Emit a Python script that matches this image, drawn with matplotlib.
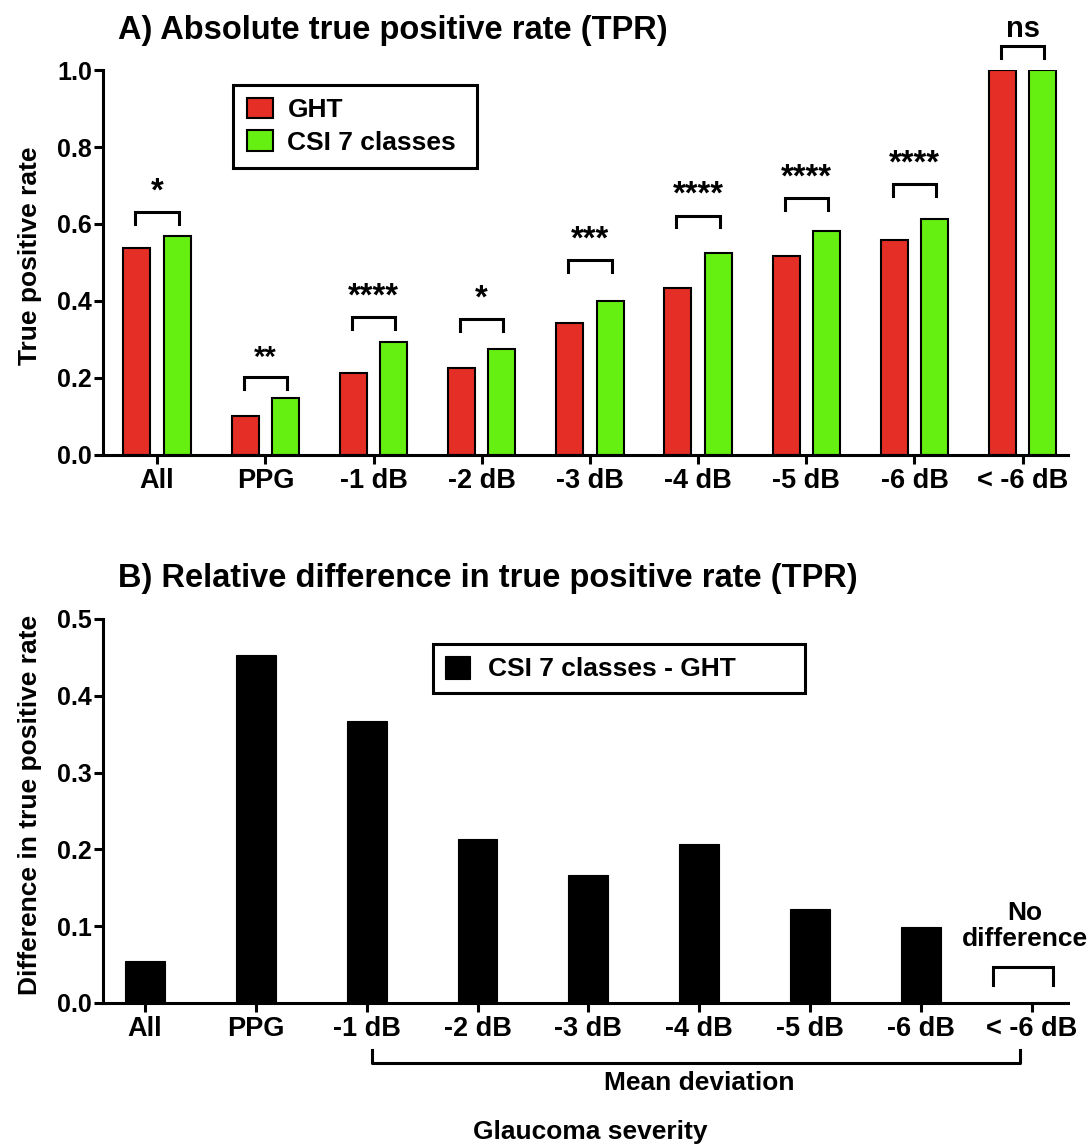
import numpy as np
import matplotlib
matplotlib.use('Agg')
import matplotlib.pyplot as plt
from matplotlib.transforms import blended_transform_factory

plt.rcParams['font.family'] = ['Liberation Sans', 'DejaVu Sans']
plt.rcParams['font.weight'] = 'bold'

# data
categories = ['All', 'PPG', '-1 dB', '-2 dB', '-3 dB', '-4 dB', '-5 dB', '-6 dB', '< -6 dB']
tpr_ght = [0.538, 0.100, 0.214, 0.227, 0.343, 0.434, 0.517, 0.558, 1.0]
tpr_csi = [0.569, 0.148, 0.293, 0.276, 0.401, 0.524, 0.581, 0.613, 1.0]
sig_labels = ['*', '**', '****', '*', '***', '****', '****', '****', 'ns']
bracket_y = [0.630, 0.203, 0.358, 0.354, 0.506, 0.622, 0.668, 0.704, 1.062]
rel_diff = [0.055, 0.453, 0.367, 0.2135, 0.166, 0.207, 0.122, 0.099, 0.0]

red = '#e52e26'
green = '#66f011'
LW = 2.2
FS = 19
XFS = 19.5
YFS = 18

fig = plt.figure(figsize=(10.88, 11.44), dpi=100)
ax1 = fig.add_axes([0.0947, 0.6023, 0.887, 0.3365])
ax2 = fig.add_axes([0.0947, 0.1233, 0.887, 0.3357])

x = np.arange(len(categories))


def style_axis(ax):
    for s in ['top', 'right']:
        ax.spines[s].set_visible(False)
    for s in ['left', 'bottom']:
        ax.spines[s].set_linewidth(LW)
    ax.tick_params(axis='both', direction='out', length=6.5, width=LW)
    ax.tick_params(axis='y', pad=1.5, labelsize=YFS)
    ax.tick_params(axis='x', pad=3, labelsize=XFS)
    ax.set_xticks(x)
    ax.set_xticklabels(categories, fontweight='bold')
    for lab in ax.get_yticklabels():
        lab.set_fontweight('bold')


def bracket(ax, x0, x1, y, leg, **kw):
    ax.plot([x0, x0, x1, x1], [y - leg, y, y, y - leg], color='black', lw=LW,
            solid_joinstyle='miter', clip_on=False, **kw)


# ---- panel A
w = 0.25
off = 0.187
ax1.bar(x - off, tpr_ght, w, color=red, edgecolor='black', linewidth=1.5, label='GHT')
ax1.bar(x + off, tpr_csi, w, color=green, edgecolor='black', linewidth=1.5, label='CSI 7 classes')
ax1.set_ylim(0, 1.0)
ax1.set_xlim(-0.5, 8.42)
ax1.set_yticks([0, 0.2, 0.4, 0.6, 0.8, 1.0])
ax1.set_yticklabels(['0.0', '0.2', '0.4', '0.6', '0.8', '1.0'])
style_axis(ax1)

for i, lab in enumerate(sig_labels):
    bracket(ax1, i - 0.2, i + 0.2, bracket_y[i], 0.031)
    size = 21 if lab in ('ns', '**') else 23.5
    dy = 0.008 if lab == 'ns' else 0.012
    ax1.text(i, bracket_y[i] + dy, lab, ha='center', va='bottom',
             fontsize=size, fontweight='bold', clip_on=False)

leg1 = ax1.legend(loc='upper left', bbox_to_anchor=(0.135, 0.961 - 0.21, 0.252, 0.21),
                  mode='expand', borderaxespad=0, fontsize=FS, frameon=True,
                  fancybox=False, edgecolor='black', framealpha=1,
                  handlelength=1.0, handleheight=0.8, handletextpad=0.55,
                  labelspacing=0.3, borderpad=0.5)
leg1.get_frame().set_linewidth(LW)
for t in leg1.get_texts():
    t.set_fontweight('bold')

# ---- panel B
ax2.bar(x, rel_diff, 0.36, color='black', edgecolor='black', linewidth=0.8,
        label='CSI 7 classes - GHT')
ax2.set_ylim(0, 0.5)
ax2.set_xlim(-0.38, 8.33)
ax2.set_yticks([0, 0.1, 0.2, 0.3, 0.4, 0.5])
ax2.set_yticklabels(['0.0', '0.1', '0.2', '0.3', '0.4', '0.5'])
style_axis(ax2)

leg2 = ax2.legend(loc='upper left', bbox_to_anchor=(0.342, 0.935 - 0.161, 0.385, 0.161),
                  mode='expand', borderaxespad=0, fontsize=FS, frameon=True,
                  fancybox=False, edgecolor='black', framealpha=1,
                  handlelength=0.95, handleheight=0.95, handletextpad=0.7,
                  borderpad=0.45)
leg2.get_frame().set_linewidth(LW)
for t in leg2.get_texts():
    t.set_fontweight('bold')

# no difference annotation
bracket(ax2, 7.65, 8.19, 0.047, 0.024)
ax2.text(7.94, 0.1, 'No\ndifference', ha='center', va='center', fontsize=FS,
         fontweight='bold', linespacing=1.1, clip_on=False)

# mean deviation bracket below tick labels
tr = blended_transform_factory(ax2.transData, ax2.transAxes)
ax2.plot([2.05, 2.05, 7.9, 7.9], [-0.122, -0.156, -0.156, -0.122], color='black',
         lw=LW, transform=tr, clip_on=False)
ax2.text(5.0, -0.208, 'Mean deviation', transform=tr, ha='center', va='center',
         fontsize=FS, fontweight='bold')

fig.text(590 / 1088, 1 - 1132 / 1144, 'Glaucoma severity', ha='center', va='center',
         fontsize=FS, fontweight='bold')

# titles and y labels
fig.text(118 / 1088, 1 - 31 / 1144, 'A) Absolute true positive rate (TPR)',
         ha='left', va='center', fontsize=23.5, fontweight='bold')
fig.text(118 / 1088, 1 - 579 / 1144, 'B) Relative difference in true positive rate (TPR)',
         ha='left', va='center', fontsize=23.5, fontweight='bold')
fig.text(30 / 1088, 1 - 256 / 1144, 'True positive rate', rotation=90,
         ha='center', va='center', fontsize=FS, fontweight='bold')
fig.text(30 / 1088, 1 - 805 / 1144, 'Difference in true positive rate', rotation=90,
         ha='center', va='center', fontsize=FS, fontweight='bold')

fig.savefig('out.png', dpi=100)
